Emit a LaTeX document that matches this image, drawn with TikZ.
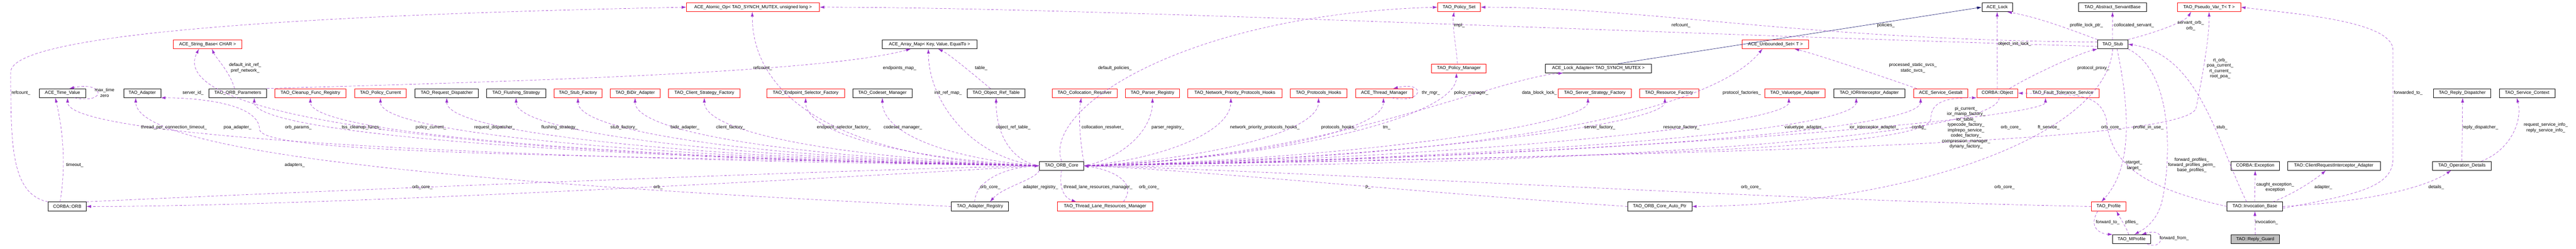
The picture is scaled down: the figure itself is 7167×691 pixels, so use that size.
\documentclass[tikz,border=0pt]{standalone}
\usepackage{fontspec}
\setmainfont{Liberation Sans}
\usetikzlibrary{arrows.meta}
\definecolor{dcol}{HTML}{9A32CD}
\definecolor{icol}{HTML}{191970}
\definecolor{rcol}{HTML}{FF0000}
\definecolor{gcol}{HTML}{BFBFBF}
\tikzset{
 box/.style={draw=black,line width=0.9pt,minimum height=25pt,inner sep=0pt,font=\fontsize{12.5}{15}\selectfont},
 rbox/.style={box,draw=rcol},
 gbox/.style={box,fill=gcol},
 lbl/.style={inner sep=0pt,align=center,font=\fontsize{12.5}{15}\selectfont},
 dep/.style={draw=dcol,line width=0.8pt,dash pattern=on 7pt off 5pt,-{Latex[length=13pt,width=8pt]}},
 inh/.style={draw=icol,line width=0.9pt,-{Latex[length=13pt,width=8pt]}}
}
\newcommand\bx[6]{\node[#6,minimum width={#3pt-#2pt}] (#1) at ({(#2+#3)/2},#4) {#5};}
\begin{document}
\begin{tikzpicture}[x=1pt,y=-1pt]
\useasboundingbox (0,0) rectangle (7167,691);
% nodes
\bx{TV}{110}{238}{259}{ACE\_Time\_Value}{box}
\bx{AD}{344}{447}{259}{TAO\_Adapter}{box}
\bx{SB}{482}{673}{123}{ACE\_String\_Base< CHAR >}{rbox}
\bx{ORB}{134}{240}{574}{CORBA::ORB}{box}
\bx{OP}{581}{742}{259}{TAO\_ORB\_Parameters}{box}
\bx{CL}{765}{962}{259}{TAO\_Cleanup\_Func\_Registry}{rbox}
\bx{PC}{987}{1130}{259}{TAO\_Policy\_Current}{rbox}
\bx{RD}{1155}{1331}{259}{TAO\_Request\_Dispatcher}{box}
\bx{FS}{1354}{1518}{259}{TAO\_Flushing\_Strategy}{box}
\bx{SF}{1541}{1675}{259}{TAO\_Stub\_Factory}{rbox}
\bx{BD}{1698}{1836}{259}{TAO\_BiDir\_Adapter}{rbox}
\bx{AO}{1910}{2280}{20}{ACE\_Atomic\_Op< TAO\_SYNCH\_MUTEX, unsigned long >}{rbox}
\bx{CS}{1860}{2059}{259}{TAO\_Client\_Strategy\_Factory}{rbox}
\bx{ES}{2133}{2350}{259}{TAO\_Endpoint\_Selector\_Factory}{rbox}
\bx{CM}{2372}{2538}{259}{TAO\_Codeset\_Manager}{box}
\bx{AM}{2454}{2718}{123}{ACE\_Array\_Map< Key, Value, EqualTo >}{box}
\bx{ORT}{2691}{2852}{259}{TAO\_Object\_Ref\_Table}{box}
\bx{core}{2892}{3015}{461}{TAO\_ORB\_Core}{box}
\bx{AR}{2647}{2806}{574}{TAO\_Adapter\_Registry}{box}
\bx{COL}{2927}{3108}{259}{TAO\_Collocation\_Resolver}{rbox}
\bx{TL}{2942}{3207}{574}{TAO\_Thread\_Lane\_Resources\_Manager}{rbox}
\bx{PR}{3131}{3282}{259}{TAO\_Parser\_Registry}{rbox}
\bx{NP}{3304}{3567}{259}{TAO\_Network\_Priority\_Protocols\_Hooks}{rbox}
\bx{PH}{3590}{3747}{259}{TAO\_Protocols\_Hooks}{rbox}
\bx{TM}{3771}{3931}{259}{ACE\_Thread\_Manager}{rbox}
\bx{PS}{4000}{4119}{20}{TAO\_Policy\_Set}{rbox}
\bx{PM}{3983}{4135}{190}{TAO\_Policy\_Manager}{rbox}
\bx{LA}{4299}{4595}{190}{ACE\_Lock\_Adapter< TAO\_SYNCH\_MUTEX >}{box}
\bx{SS}{4335}{4539}{259}{TAO\_Server\_Strategy\_Factory}{rbox}
\bx{RF}{4562}{4726}{259}{TAO\_Resource\_Factory}{rbox}
\bx{AP}{4528}{4707}{574}{TAO\_ORB\_Core\_Auto\_Ptr}{box}
\bx{US}{4847}{5032}{123}{ACE\_Unbounded\_Set< T >}{rbox}
\bx{VT}{4910}{5078}{259}{TAO\_Valuetype\_Adapter}{rbox}
\bx{IOR}{5102}{5299}{259}{TAO\_IORInterceptor\_Adapter}{box}
\bx{GS}{5324}{5475}{259}{ACE\_Service\_Gestalt}{rbox}
\bx{LK}{5514}{5599}{20}{ACE\_Lock}{box}
\bx{ASB}{5783}{5972}{20}{TAO\_Abstract\_ServantBase}{box}
\bx{ST}{5836}{5920}{123}{TAO\_Stub}{box}
\bx{CO}{5500}{5614}{259}{CORBA::Object}{rbox}
\bx{FT}{5638}{5840}{259}{TAO\_Fault\_Tolerance\_Service}{rbox}
\bx{PF}{5819}{5914}{574}{TAO\_Profile}{rbox}
\bx{MP}{5878}{5983}{665}{TAO\_MProfile}{box}
\bx{PV}{6058}{6234}{20}{TAO\_Pseudo\_Var\_T< T >}{rbox}
\bx{EX}{6207}{6342}{461}{CORBA::Exception}{box}
\bx{CR}{6364}{6622}{461}{TAO::ClientRequestInterceptor\_Adapter}{box}
\bx{IB}{6196}{6351}{574}{TAO::Invocation\_Base}{box}
\bx{RG}{6207}{6342}{665}{TAO::Reply\_Guard}{gbox}
\bx{RDP}{6771}{6930}{259}{TAO\_Reply\_Dispatcher}{box}
\bx{SC}{6954}{7108}{259}{TAO\_Service\_Context}{box}
\bx{OD}{6768}{6931}{461}{TAO\_Operation\_Details}{box}
% left bundle from core
\draw[dep] (core.west) .. controls (1540,445) and (188,390) .. ([xshift=14pt]TV.south);
\draw[dep] (core.west) .. controls (1600,430) and (730,430) .. (722,360) .. controls (722,290) and (560,272) .. (AD.south east);
\draw[dep] (core.west) .. controls (900,430) and (480,280) .. ([xshift=-24pt]SB.south);
\draw[dep] (core.west) .. controls (1800,445) and (707,380) .. ([xshift=46pt]OP.south);
\draw[dep] (core.west) .. controls (1880,445) and (863,380) .. (CL.south);
\draw[dep] (core.west) .. controls (1975,445) and (1058,380) .. (PC.south);
\draw[dep] (core.west) .. controls (2070,445) and (1243,380) .. (RD.south);
\draw[dep] (core.west) .. controls (2165,445) and (1436,380) .. (FS.south);
\draw[dep] (core.west) .. controls (2250,445) and (1608,380) .. (SF.south);
\draw[dep] (core.west) .. controls (2330,445) and (1767,380) .. (BD.south);
\draw[dep] (core.west) .. controls (2425,445) and (1960,380) .. (CS.south);
\draw[dep] (core.west) .. controls (2400,450) and (2093,300) .. ([xshift=-2pt]AO.south);
\draw[dep] (core.west) .. controls (2565,445) and (2241,380) .. (ES.south);
\draw[dep] (core.west) .. controls (2670,445) and (2455,380) .. (CM.south);
\draw[dep] (core.west) .. controls (2700,440) and (2583,280) .. ([xshift=-3pt]AM.south);
\draw[dep] (core.west) .. controls (2820,450) and (2771,380) .. (ORT.south);
% right bundle from core
\draw[dep] (core.north east) .. controls (3005,400) and (3000,320) .. ([xshift=-9pt]COL.south);
\draw[dep] (core.east) .. controls (3110,445) and (3206,370) .. (PR.south);
\draw[dep] (core.east) .. controls (3220,445) and (3424,370) .. ([xshift=-11pt]NP.south);
\draw[dep] (core.east) .. controls (3340,445) and (3668,370) .. (PH.south);
\draw[dep] (core.east) .. controls (3430,445) and (3849,370) .. ([xshift=-2pt]TM.south);
\draw[dep] (core.east) .. controls (3530,445) and (4052,330) .. ([xshift=-7pt]PM.south);
\draw[dep] (core.east) .. controls (3700,440) and (4150,220) .. ([xshift=-98pt]LA.south);
\draw[dep] (core.east) .. controls (3720,445) and (4418,350) .. ([xshift=-19pt]SS.south);
\draw[dep] (core.east) .. controls (3830,445) and (4632,350) .. ([xshift=-12pt]RF.south);
\draw[dep] (core.east) .. controls (4200,440) and (4770,300) .. ([xshift=-36pt]US.south);
\draw[dep] (core.east) .. controls (3980,445) and (4977,350) .. ([xshift=-17pt]VT.south);
\draw[dep] (core.east) .. controls (4070,445) and (5164,370) .. ([xshift=-36pt]IOR.south);
\draw[dep] (core.east) .. controls (4170,445) and (5344,370) .. ([xshift=-56pt]GS.south);
\draw[dep] (core.east) .. controls (4300,440) and (5370,420) .. (5372,330) .. controls (5372,280) and (5420,272) .. (CO.south west);
\draw[dep] (core.east) .. controls (4400,440) and (5691,330) .. ([xshift=-48pt]FT.south);
\draw[dep] (core.east) .. controls (4700,430) and (6090,400) .. (6110,300) .. controls (6130,200) and (6147,100) .. (PV.south);
\draw[dep] (core.north) .. controls (2900,300) and (3300,40) .. (PS.west);
% into core
\draw[dep] ([xshift=5pt]CO.south) .. controls (5560,400) and (4000,470) .. (core.east);
\draw[dep] (ORB.north east) .. controls (900,530) and (2400,470) .. (core.west);
\draw[dep] (core.west) .. controls (2400,490) and (900,575) .. (ORB.east);
\draw[dep] ([xshift=-15pt]AR.north) .. controls (2715,500) and (2800,465) .. (core.west);
\draw[dep] (core.south west) .. controls (2880,500) and (2790,520) .. ([xshift=28pt]AR.north);
\draw[dep] (core.south) .. controls (2945,520) and (2960,550) .. ([xshift=-80pt]TL.north);
\draw[dep] ([xshift=51pt]TL.north) .. controls (3170,500) and (3080,470) .. (core.east);
\draw[dep] (AP.west) .. controls (4000,540) and (3300,470) .. (core.east);
\draw[dep] (PF.west) .. controls (5000,560) and (3500,470) .. (core.east);
% others
\draw[dep] (ORB.north west) .. controls (30,540) and (30,400) .. (30,200) .. controls (30,90) and (900,40) .. (AO.west);
\draw[dep] ([xshift=-20pt]ORB.north) .. controls (186,450) and (172,350) .. ([xshift=-20pt]TV.south);
\draw[dep] ([xshift=33pt]TV.south) .. controls (300,290) and (290,225) .. ([xshift=19pt]TV.north);
\draw[dep] (AR.west) .. controls (1500,520) and (380,440) .. ([xshift=-18pt]AD.south);
\draw[dep] ([xshift=-9pt]OP.north) .. controls (640,200) and (600,160) .. ([xshift=12pt]SB.south);
\draw[dep] (OP.north east) .. controls (1500,225) and (2300,200) .. ([xshift=-52pt]AM.south);
\draw[dep] ([xshift=-16pt]ORT.north) .. controls (2700,200) and (2640,150) .. ([xshift=24pt]AM.south);
\draw[dep] ([xshift=21pt]TM.south) .. controls (3960,290) and (3970,225) .. ([xshift=25pt]TM.north);
\draw[dep] ([xshift=-4pt]PM.north) .. controls (4050,120) and (4040,70) .. ([xshift=-14pt]PS.south);
\draw[inh] ([xshift=55pt]LA.north) -- (LK.west);
\draw[dep] ([xshift=-67pt]GS.north) .. controls (5200,200) and (5050,150) .. ([xshift=53pt]US.south);
\draw[dep] (CO.north) -- (LK.south);
\draw[dep] ([xshift=34pt]CO.north) .. controls (5650,210) and (5780,150) .. (ST.south west);
\draw[dep] (ST.north west) .. controls (5780,90) and (5680,50) .. ([xshift=-15pt]LK.south east);
\draw[dep] ([xshift=-1pt]ST.north) -- (ASB.south);
\draw[dep] (ST.north east) .. controls (6000,90) and (6080,60) .. ([xshift=-50pt]PV.south);
\draw[dep] ([yshift=-6pt]ST.west) .. controls (4500,90) and (3000,20) .. (AO.east);
\draw[dep] ([yshift=6pt]ST.west) .. controls (5000,110) and (4600,21) .. (PS.east);
\draw[dep] (ST.south) .. controls (5860,380) and (5300,570) .. (AP.east);
\draw[dep] ([xshift=12pt]ST.south) .. controls (5935,350) and (5920,480) .. ([xshift=-20pt]PF.north);
\draw[dep] (ST.south east) .. controls (6050,200) and (6040,450) .. (6015,560) .. controls (6000,620) and (5960,640) .. ([xshift=-45pt]MP.north east);
\draw[dep] ([xshift=-23pt]IB.north) .. controls (6170,400) and (6120,150) .. (ST.east);
\draw[dep] (IB.west) .. controls (5950,520) and (5870,450) .. (5860,330) .. controls (5840,260) and (5780,262) .. (CO.east);
\draw[dep] ([xshift=-30pt]PF.south) .. controls (5810,630) and (5840,650) .. (MP.north west);
\draw[dep] ([xshift=-8pt]MP.north) .. controls (5915,630) and (5895,600) .. ([xshift=22pt]PF.south);
\draw[dep] ([xshift=-10pt]MP.south east) .. controls (6020,700) and (6030,630) .. ([xshift=-25pt]MP.north east);
\draw[dep] ([xshift=-1pt]IB.north) -- (EX.south);
\draw[dep] ([xshift=50pt]IB.north) .. controls (6380,540) and (6440,500) .. ([xshift=-22pt]CR.south);
\draw[dep] (IB.east) .. controls (6600,560) and (6750,520) .. ([xshift=-30pt]OD.south);
\draw[dep] ([yshift=-5pt]IB.east) .. controls (6560,540) and (6658,520) .. (6658,440) -- (6658,140) .. controls (6658,60) and (6400,40) .. (PV.east);
\draw[dep] (RG.north) -- (IB.south);
\draw[dep] (OD.north) -- ([xshift=1pt]RDP.south);
\draw[dep] ([xshift=54pt]OD.north) .. controls (6980,420) and (7020,340) .. ([xshift=-29pt]SC.south);
% labels
\node[lbl] (l1) at (58,258) {refcount\_};
\node[lbl] (l2) at (291,258) {max\_time\\zero};
\node[lbl] (l3) at (208,459) {timeout\_};
\node[lbl] (l4) at (484,355) {thread\_per\_connection\_timeout\_};
\node[lbl] (l5) at (537,258) {server\_id\_};
\node[lbl] (l6) at (682,189) {default\_init\_ref\_\\pref\_network\_};
\node[lbl] (l7) at (661,355) {poa\_adapter\_};
\node[lbl] (l8) at (830,355) {orb\_params\_};
\node[lbl] (l9) at (1006,355) {tss\_cleanup\_funcs\_};
\node[lbl] (l10) at (1199,355) {policy\_current\_};
\node[lbl] (l11) at (820,459) {adapters\_};
\node[lbl] (l12) at (1175,521) {orb\_core\_};
\node[lbl] (l13) at (1376,355) {request\_dispatcher\_};
\node[lbl] (l14) at (1557,355) {flushing\_strategy\_};
\node[lbl] (l15) at (1736,355) {stub\_factory\_};
\node[lbl] (l16) at (1906,355) {bidir\_adapter\_};
\node[lbl] (l17) at (2033,355) {client\_factory\_};
\node[lbl] (l18) at (2122,189) {refcount\_};
\node[lbl] (l19) at (1831,521) {orb\_};
\node[lbl] (l20) at (2348,355) {endpoint\_selector\_factory\_};
\node[lbl] (l21) at (2503,189) {endpoints\_map\_};
\node[lbl] (l22) at (2512,355) {codeset\_manager\_};
\node[lbl] (l23) at (2638,258) {init\_ref\_map\_};
\node[lbl] (l24) at (2730,189) {table\_};
\node[lbl] (l25) at (2819,355) {object\_ref\_table\_};
\node[lbl] (l26) at (2755,521) {orb\_core\_};
\node[lbl] (l27) at (2895,521) {adapter\_registry\_};
\node[lbl] (l28) at (3055,521) {thread\_lane\_resources\_manager\_};
\node[lbl] (l29) at (3197,521) {orb\_core\_};
\node[lbl] (l30) at (3102,189) {default\_policies\_};
\node[lbl] (l31) at (3068,355) {collocation\_resolver\_};
\node[lbl] (l32) at (3249,355) {parser\_registry\_};
\node[lbl] (l33) at (3519,355) {network\_priority\_protocols\_hooks\_};
\node[lbl] (l34) at (3725,355) {protocols\_hooks\_};
\node[lbl] (l35) at (3858,355) {tm\_};
\node[lbl] (l36) at (3981,258) {thr\_mgr\_};
\node[lbl] (l37) at (4093,258) {policy\_manager\_};
\node[lbl] (l38) at (4060,70) {impl\_};
\node[lbl] (l39) at (3806,521) {p\_};
\node[lbl] (l40) at (4677,70) {refcount\_};
\node[lbl] (l41) at (4283,258) {data\_block\_lock\_};
\node[lbl] (l42) at (4451,355) {server\_factory\_};
\node[lbl] (l43) at (4678,355) {resource\_factory\_};
\node[lbl] (l44) at (4846,258) {protocol\_factories\_};
\node[lbl] (l45) at (5247,70) {policies\_};
\node[lbl] (l46) at (5322,189) {processed\_static\_svcs\_\\static\_svcs\_};
\node[lbl] (l47) at (5020,355) {valuetype\_adapter\_};
\node[lbl] (l48) at (5214,355) {ior\_interceptor\_adapter\_};
\node[lbl] (l49) at (5339,355) {config\_};
\node[lbl] (l50) at (4872,521) {orb\_core\_};
\node[lbl] (l51) at (5805,70) {profile\_lock\_ptr\_};
\node[lbl] (l52) at (5937,70) {collocated\_servant\_};
\node[lbl] (l53) at (5605,122) {object\_init\_lock\_};
\node[lbl] (l54) at (5824,189) {protocol\_proxy\_};
\node[lbl] (l55) at (5470,355) {pi\_current\_\\ior\_manip\_factory\_\\ior\_table\_\\typecode\_factory\_\\implrepo\_service\_\\codec\_factory\_\\compression\_manager\_\\dynany\_factory\_};
\node[lbl] (l56) at (5595,355) {orb\_core\_};
\node[lbl] (l57) at (5700,355) {ft\_service\_};
\node[lbl] (l58) at (5874,355) {orb\_core\_};
\node[lbl] (l59) at (5977,355) {profile\_in\_use\_};
\node[lbl] (l60) at (5937,460) {otarget\_\\target\_};
\node[lbl] (l61) at (5577,521) {orb\_core\_};
\node[lbl] (l62) at (5864,618) {forward\_to\_};
\node[lbl] (l63) at (5931,618) {pfiles\_};
\node[lbl] (l64) at (6095,71) {servant\_orb\_\\orb\_};
\node[lbl] (l65) at (6177,190) {rt\_orb\_\\poa\_current\_\\rt\_current\_\\root\_poa\_};
\node[lbl] (l66) at (6182,355) {stub\_};
\node[lbl] (l67) at (6098,459) {forward\_profiles\_\\forward\_profiles\_perm\_\\base\_profiles\_};
\node[lbl] (l68) at (6330,521) {caught\_exception\_\\exception};
\node[lbl] (l69) at (6464,521) {adapter\_};
\node[lbl] (l70) at (6306,618) {invocation\_};
\node[lbl] (l71) at (6049,663) {forward\_from\_};
\node[lbl] (l72) at (6700,258) {forwarded\_to\_};
\node[lbl] (l73) at (6901,355) {reply\_dispatcher\_};
\node[lbl] (l74) at (7083,355) {request\_service\_info\_\\reply\_service\_info\_};
\node[lbl] (l75) at (6778,521) {details\_};
\end{tikzpicture}
\end{document}
